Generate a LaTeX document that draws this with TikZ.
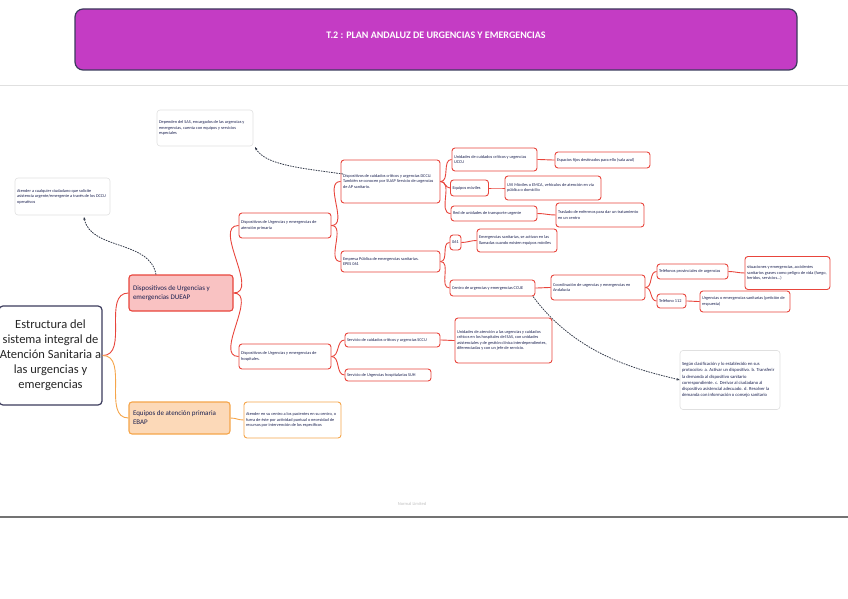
\documentclass[tikz,border=0pt]{standalone}
\usepackage{fontspec}
\setmainfont{Carlito}
\usetikzlibrary{arrows.meta}
\definecolor{hdr}{HTML}{C43CC4}
\definecolor{hdrb}{HTML}{3B3B5C}
\definecolor{rd}{HTML}{E8453C}
\definecolor{pinkf}{HTML}{F9C2C2}
\definecolor{org}{HTML}{F5A54A}
\definecolor{orgf}{HTML}{FCD9B8}
\definecolor{txt}{HTML}{1A2050}
\definecolor{dsh}{HTML}{333A4A}
\tikzset{
  base/.style={rounded corners=3pt, align=flush left, inner xsep=2pt, inner ysep=1.5pt, font=\fontsize{4.3}{5.5}\selectfont, text=txt},
  rbox/.style={base, draw=rd, line width=0.9pt, fill=white},
  obox/.style={base, draw=org, line width=0.9pt, fill=white},
  nbox/.style={base, draw=black!12, line width=0.6pt, fill=white},
  rline/.style={draw=rd, line width=0.9pt},
  oline/.style={draw=org, line width=0.9pt},
  dline/.style={draw=dsh, line width=0.8pt, dash pattern=on 1.6pt off 1pt, -{Stealth[length=3pt,width=2.4pt]}},
}
\begin{document}
\begin{tikzpicture}[x=1pt,y=-1pt]
\useasboundingbox (0,0) rectangle (848,599);
% header
\node[draw=hdrb, line width=1.2pt, fill=hdr, rounded corners=8pt, minimum width=722pt, minimum height=61pt] (hdr) at (436,39.5) {};
\node[text=white, font=\bfseries\fontsize{10}{11}\selectfont] (title) at (436,35) {T.2 : PLAN ANDALUZ DE URGENCIAS Y EMERGENCIAS};
% rules
\coordinate (l1a) at (0,85); \coordinate (l1b) at (848,85);
\draw[black!12, line width=0.8pt] (l1a) -- (l1b);
\coordinate (l2a) at (0,517); \coordinate (l2b) at (848,517);
\draw[black!55, line width=1.4pt] (l2a) -- (l2b);
\node[text=black!25, font=\fontsize{4.5}{5}\selectfont] (foot) at (412,504) {Normal Limited};

% root
\node[draw=hdrb, line width=1.2pt, fill=white, rounded corners=4pt, minimum width=97pt, minimum height=99pt, align=center, inner sep=1pt, font=\fontsize{12.5}{15}\selectfont, text=black!85] (root) at (50.5,355.5) {Estructura del\\ sistema integral de\\ Atención Sanitaria a\\ las urgencias y\\ emergencias};

% main branches
\node[rbox, fill=pinkf, line width=1.1pt, minimum width=104pt, minimum height=36pt, text width=96pt, font=\fontsize{7}{9}\selectfont] (dueap) at (181,293) {Dispositivos de Urgencias y\\ emergencias DUEAP};
\node[obox, fill=orgf, line width=1.1pt, minimum width=101pt, minimum height=32pt, text width=93pt, font=\fontsize{7}{9}\selectfont] (ebap) at (179.5,418) {Equipos de atención primaria\\ EBAP};
\node[obox, minimum width=97pt, minimum height=36pt, text width=93pt] (ebapn) at (292.5,420) {Atender en su centro a los pacientes en su centro, o fuera de éste por actividad puntual o necesidad de recursos por intervención de los específicos};

% notes
\node[nbox, minimum width=95pt, minimum height=37pt, text width=91pt] (note1) at (62.5,196.5) {Atender a cualquier ciudadano que solicite asistencia urgente/emergente a través de los DCCU operativos};
\node[nbox, minimum width=96pt, minimum height=36pt, text width=92pt] (note2) at (205,128) {Dependen del SAS, encargados de las urgencias y emergencias, cuenta con equipos y servicios especiales};
\node[nbox, minimum width=100pt, minimum height=59pt, text width=96pt, font=\fontsize{4.6}{6.2}\selectfont] (note3) at (730,380) {Según clasificación y lo establecido en sus protocolos: a. Activar un dispositivo. b. Transferir la demanda al dispositivo sanitario correspondiente. c. Derivar al ciudadano al dispositivo asistencial adecuado. d. Resolver la demanda con información o consejo sanitario};

% level 2
\node[rbox, minimum width=92pt, minimum height=25pt, text width=88pt] (aps) at (285,225.5) {Dispositivos de Urgencias y emergencias de atención primaria};
\node[rbox, minimum width=92pt, minimum height=25pt, text width=88pt] (hosp) at (285,356.5) {Dispositivos de Urgencias y emergencias de hospitales.};

% level 3
\node[rbox, minimum width=99pt, minimum height=43pt, text width=95pt] (dccu) at (390.5,181.5) {Dispositivos de cuidados críticos y urgencias DCCU. También se conocen por SUAP Servicio de urgencias de AP sanitario.};
\node[rbox, minimum width=99pt, minimum height=21pt, text width=95pt] (epes) at (390.5,261.5) {Empresa Pública de emergencias sanitarias.\\ EPES 061};
\node[rbox, minimum width=95pt, minimum height=14pt, text width=91pt] (sccu) at (392.5,340) {Servicio de cuidados críticos y urgencias SCCU};
\node[rbox, minimum width=86pt, minimum height=12pt, text width=82pt] (suh) at (388,375) {Servicio de Urgencias hospitalarias SUH};
\node[rbox, minimum width=97pt, minimum height=45pt, text width=93pt] (sccun) at (503.5,340.5) {Unidades de atención a las urgencias y cuidados críticos en los hospitales del SAS, con unidades asistenciales y de gestión clínica interdependientes, diferenciadas y con un jefe de servicio.};

% level 4
\node[rbox, minimum width=85pt, minimum height=23pt, text width=81pt] (uccu) at (494.5,159.5) {Unidades de cuidados críticos y urgencias\\ UCCU};
\node[rbox, minimum width=37pt, minimum height=16pt, text width=34pt] (movil) at (469.5,188) {Equipos móviles};
\node[rbox, minimum width=86pt, minimum height=15pt, text width=82pt] (red) at (494,213.5) {Red de unidades de transporte urgente};
\node[rbox, minimum width=95pt, minimum height=16pt, text width=91pt] (espacios) at (602.5,160) {Espacios fijos destinados para ello (sala azul)};
\node[rbox, minimum width=96pt, minimum height=24pt, text width=92pt] (uvi) at (553,188) {UVI Móviles o EMCA, vehículos de atención en vía pública o domicilio};
\node[rbox, minimum width=88pt, minimum height=24pt, text width=84pt] (traslado) at (600,215) {Traslado de enfermos para dar un tratamiento en un centro};
\node[rbox, minimum width=11pt, minimum height=15pt, inner sep=1pt, align=center] (n061) at (455.5,242.5) {061};
\node[rbox, minimum width=80pt, minimum height=23pt, text width=76pt] (emerg) at (517,240.5) {Emergencias sanitarias, se activan en las llamadas cuando existen equipos móviles};
\node[rbox, minimum width=85pt, minimum height=16pt, text width=81pt] (ccue) at (492.5,288) {Centro de urgencias y emergencias CCUE};
\node[rbox, minimum width=94pt, minimum height=25pt, text width=90pt] (coord) at (598,287.5) {Coordinación de urgencias y emergencias en\\ Andalucía};
\node[rbox, minimum width=71pt, minimum height=15pt, text width=67pt] (tprov) at (692.5,271.5) {Teléfonos provinciales de urgencias};
\node[rbox, minimum width=29pt, minimum height=14pt, text width=25pt] (t112) at (671.5,301) {Teléfono 112};
\node[rbox, minimum width=85pt, minimum height=33pt, text width=81pt] (situ) at (787.5,273) {situaciones y emergencias, accidentes sanitarios graves como peligro de vida (fuego, heridos, servicios...)};
\node[rbox, minimum width=90pt, minimum height=21pt, text width=86pt] (urg) at (745,301.5) {Urgencias o emergencias sanitarias (petición de respuesta)};

% connectors
\draw[rline] (root.east) to[out=0,in=180] (dueap.west);
\draw[oline] (root.east) to[out=0,in=180] (ebap.west);
\draw[oline] (ebap.east) to[out=0,in=180] (ebapn.west);
\draw[rline] (dueap.east) to[out=0,in=180] (aps.west);
\draw[rline] (dueap.east) to[out=0,in=180] (hosp.west);
\draw[rline] (aps.east) to[out=0,in=180] (dccu.west);
\draw[rline] (aps.east) to[out=0,in=180] (epes.west);
\draw[rline] (hosp.east) to[out=0,in=180] (sccu.west);
\draw[rline] (hosp.east) to[out=0,in=180] (suh.west);
\draw[rline] (sccu.east) to[out=0,in=180] (sccun.west);
\draw[rline] (dccu.east) to[out=0,in=180] (uccu.west);
\draw[rline] (dccu.east) to[out=0,in=180] (movil.west);
\draw[rline] (dccu.east) to[out=0,in=180] (red.west);
\draw[rline] (uccu.east) to[out=0,in=180] (espacios.west);
\draw[rline] (movil.east) to[out=0,in=180] (uvi.west);
\draw[rline] (red.east) to[out=0,in=180] (traslado.west);
\draw[rline] (epes.east) to[out=0,in=180] (n061.west);
\draw[rline] (epes.east) to[out=0,in=180] (ccue.west);
\draw[rline] (n061.east) to[out=0,in=180] (emerg.west);
\draw[rline] (ccue.east) to[out=0,in=180] (coord.west);
\draw[rline] (coord.east) to[out=0,in=180] (tprov.west);
\draw[rline] (coord.east) to[out=0,in=180] (t112.west);
\draw[rline] (tprov.east) to[out=0,in=180] (situ.west);
\draw[rline] (t112.east) to[out=0,in=180] (urg.west);

% dashed links
\coordinate (d1s) at (156,274.5);
\coordinate (d1e) at (84,217);
\draw[dline] (d1s) .. controls (150,240) and (90,250) .. (d1e);
\coordinate (d2s) at (343,174);
\coordinate (d2e) at (255,147);
\draw[dline] (d2s) .. controls (300,168) and (265,165) .. (d2e);
\coordinate (d3s) at (533,296.5);
\draw[dline] (d3s) .. controls (580,360) and (650,372) .. (note3.west);
\end{tikzpicture}
\end{document}
